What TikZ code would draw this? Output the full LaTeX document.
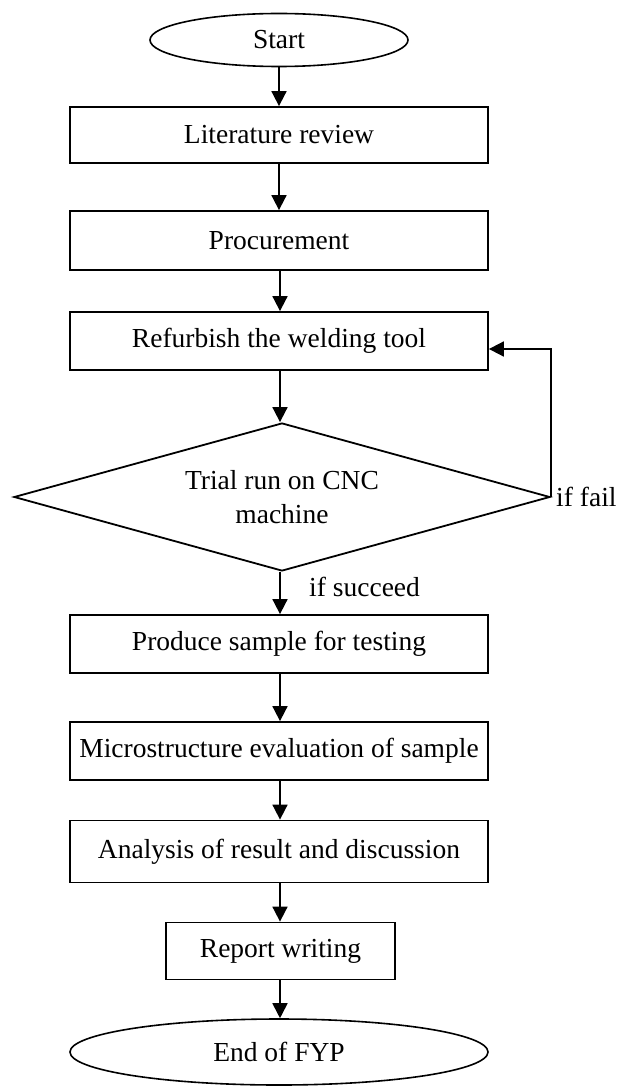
\documentclass[tikz,border=0pt]{standalone}
\usepackage{fontspec}
\setmainfont{Liberation Serif}
\usetikzlibrary{shapes.geometric,arrows.meta}
\begin{document}
\begin{tikzpicture}[x=1pt,y=-1pt,
  every node/.style={font=\fontsize{27.5}{34}\selectfont, inner sep=0pt},
  stepbox/.style={draw, line width=1.8pt, rectangle, minimum width=418pt, minimum height=58pt},
  termin/.style={draw, line width=1.6pt, ellipse},
  decide/.style={draw, line width=1.8pt, diamond, aspect=3.6, minimum width=536pt, minimum height=148pt, align=center},
  arr/.style={line width=1.8pt, -{Triangle[length=15pt,width=15pt]}},
  lbl/.style={anchor=west}]
\useasboundingbox (0,0) rectangle (624,1086);
\fill[white] (0,0) rectangle (624,1086);
\node[termin, minimum width=258pt, minimum height=53pt] (start) at (279,40) {Start};
\node[stepbox, minimum height=56pt] (lit) at (279,135) {Literature review};
\node[stepbox, minimum height=59pt] (proc) at (279,240.5) {Procurement};
\node[stepbox] (ref) at (279,341) {Refurbish the welding tool};
\node[decide] (trial) at (282,497) {Trial run on CNC\\machine};
\node[stepbox] (prod) at (279,644) {Produce sample for testing};
\node[stepbox] (micro) at (279,751) {Microstructure evaluation of sample};
\node[stepbox, minimum height=62pt] (anal) at (279,851.5) {Analysis of result and discussion};
\node[stepbox, minimum width=229pt, minimum height=57pt] (rep) at (280.5,951) {Report writing};
\node[termin, minimum width=418pt, minimum height=66pt] (fin) at (279,1052) {End of FYP};
\node[lbl] (fail) at (556,497) {if fail};
\node[lbl] (succ) at (309,587) {if succeed};
\coordinate (loopin) at (ref.east |- 0,349);
\draw[arr] (start.south) -- (lit.north);
\draw[arr] (lit.south) -- (proc.north);
\draw[arr] (proc.south -| 280,0) -- (ref.north -| 280,0);
\draw[arr] (ref.south -| 280,0) -- (trial.north -| 280,0);
\draw[arr] (trial.east) |- (loopin);
\draw[arr] (trial.south -| 280,0) -- (prod.north -| 280,0);
\draw[arr] (prod.south -| 280,0) -- (micro.north -| 280,0);
\draw[arr] (micro.south -| 280,0) -- (anal.north -| 280,0);
\draw[arr] (anal.south -| 280,0) -- (rep.north -| 280,0);
\draw[arr] (rep.south -| 280,0) -- (fin.north -| 280,0);
\end{tikzpicture}
\end{document}
